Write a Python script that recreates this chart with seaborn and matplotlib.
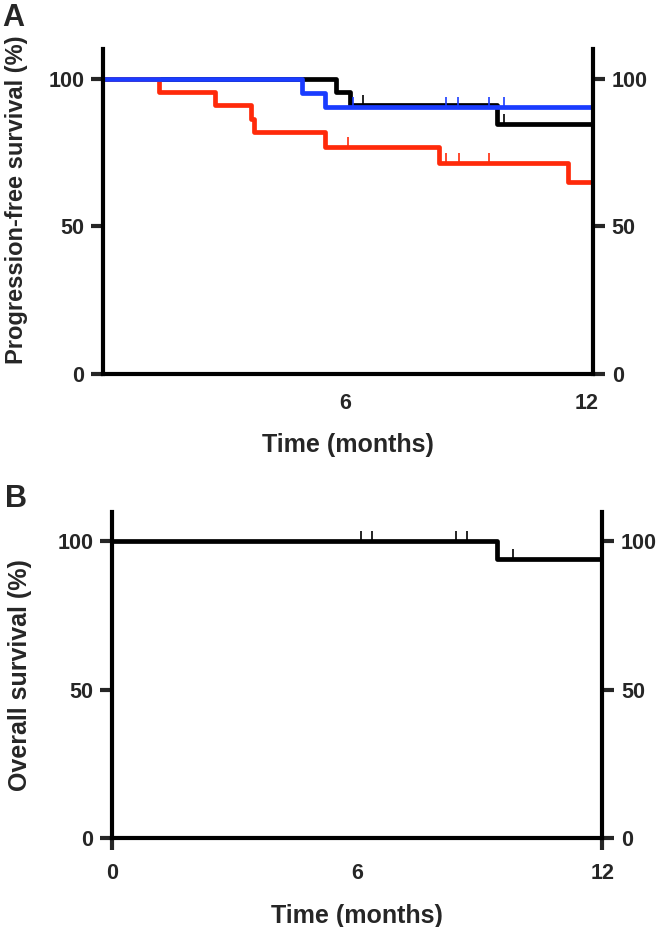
import numpy as np
import matplotlib
matplotlib.use("Agg")
import matplotlib.pyplot as plt
import seaborn as sns

# Panel A: progression-free survival, three groups (step times in months, survival in %)
pfs_black_t = [0, 5.77, 6.12, 9.78, 12.16]
pfs_black_s = [100, 95.5, 90.9, 84.7, 84.7]
pfs_black_cens = [6.45, 9.95]

pfs_red_t = [0, 1.39, 2.78, 3.66, 3.74, 5.50, 8.34, 11.54, 12.16]
pfs_red_s = [100, 95.5, 90.9, 86.4, 81.8, 76.8, 71.3, 64.8, 64.8]
pfs_red_cens = [6.07, 8.52, 8.83, 9.58]

pfs_blue_t = [0, 4.93, 5.50, 12.16]
pfs_blue_s = [100, 95.2, 90.5, 90.5]
pfs_blue_cens = [6.21, 8.51, 8.81, 9.58, 9.96]

# Panel B: overall survival
os_t = [0, 9.43, 12.0]
os_s = [100, 94.1, 94.1]
os_cens = [6.09, 6.35, 8.43, 8.68, 9.82]

y_ticks = [0, 50, 100]

RED = "#ff2a0a"
BLUE = "#1a3cff"
BLACK = "#000000"

sns.set_style("ticks")
plt.rcParams["font.family"] = ["Liberation Sans Narrow", "Liberation Sans", "DejaVu Sans"]
plt.rcParams["font.weight"] = "bold"


def level_at(times, surv, t):
    i = np.searchsorted(times, t, side="right") - 1
    return np.asarray(surv)[i]


def km_curve(ax, times, surv, cens, color, lw=3.4):
    sns.lineplot(x=times, y=surv, drawstyle="steps-post", color=color,
                 linewidth=lw, estimator=None, ax=ax)
    lev = [level_at(times, surv, c) for c in cens]
    ax.vlines(cens, lev, np.array(lev) + 3.4, color=color, linewidth=1.2)


def style_axes(ax, xmax):
    ax.set_xlim(0, xmax)
    ax.set_ylim(0, 110)
    ax.set_yticks(y_ticks)
    for side in ["left", "right", "bottom"]:
        ax.spines[side].set_linewidth(3.0)
        ax.spines[side].set_color("black")
    ax.spines["top"].set_visible(False)
    ax.tick_params(axis="y", left=True, right=True, labelleft=True, labelright=True,
                   length=8.5, width=3.0, pad=5, labelsize=15.5)
    for lab in ax.get_yticklabels():
        lab.set_fontweight("bold")


fig = plt.figure(figsize=(6.61, 9.27), dpi=100)

# ---- Panel A ----
axA = fig.add_axes([0.156, 0.597, 0.741, 0.350])
km_curve(axA, pfs_black_t, pfs_black_s, pfs_black_cens, BLACK)
km_curve(axA, pfs_red_t, pfs_red_s, pfs_red_cens, RED)
km_curve(axA, pfs_blue_t, pfs_blue_s, pfs_blue_cens, BLUE)
style_axes(axA, 12.16)
axA.set_xticks([6, 12])
axA.set_xticklabels(["6", "12"], fontsize=15.5, fontweight="bold")
axA.tick_params(axis="x", length=0, pad=14)
axA.set_xlabel("Time (months)", fontsize=18, fontweight="bold", labelpad=14)
axA.set_ylabel("Progression-free survival (%)", fontsize=17, fontweight="bold")
axA.yaxis.set_label_coords(-0.153, 0.535)

# ---- Panel B ----
axB = fig.add_axes([0.170, 0.0963, 0.741, 0.3517])
km_curve(axB, os_t, os_s, os_cens, BLACK)
style_axes(axB, 12.0)
axB.set_xticks([0, 6, 12])
axB.set_xticklabels(["0", "6", "12"], fontsize=15.5, fontweight="bold")
axB.tick_params(axis="x", length=8.5, width=3.0, pad=10)
axB.xaxis.get_major_ticks()[1].tick1line.set_visible(False)
axB.set_xlabel("Time (months)", fontsize=18, fontweight="bold", labelpad=14)
axB.set_ylabel("Overall survival (%)", fontsize=18, fontweight="bold")
axB.yaxis.set_label_coords(-0.164, 0.5)

fig.text(0.003, 0.997, "A", fontsize=22, fontweight="bold", va="top", ha="left")
fig.text(0.008, 0.478, "B", fontsize=22, fontweight="bold", va="top", ha="left")

fig.savefig("out.png", dpi=100)
